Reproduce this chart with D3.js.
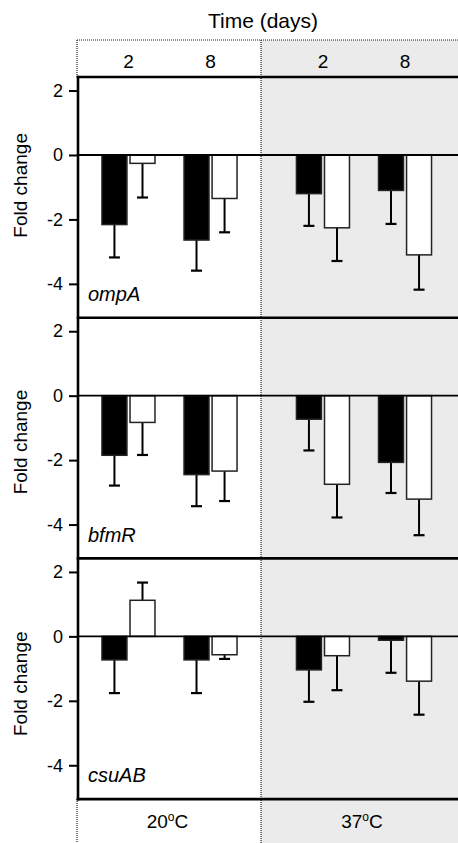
<!DOCTYPE html>
<html>
<head>
<meta charset="utf-8">
<script src="https://cdn.jsdelivr.net/npm/d3@7"></script>
<style>
  body { margin: 0; background: #fff; }
  svg { display: block; font-family: "Liberation Sans", Arial, sans-serif; }
</style>
</head>
<body>
<div id="chart"></div>
<script>
// Data
const temps = ['20', '37']
const days = ['2', '8']
const groups = ['filled', 'open']
const genes = ['ompA', 'bfmR', 'csuAB']
const yTicks = [2, 0, -2, -4]

// order: 20C day2 (filled, open), 20C day8, 37C day2, 37C day8
const ompAMean = [-2.16, -0.26, -2.64, -1.35, -1.2, -2.26, -1.1, -3.1]
const ompAErr = [1.02, 1.06, 0.95, 1.05, 1.0, 1.03, 1.04, 1.08]
const bfmRMean = [-1.85, -0.83, -2.45, -2.34, -0.73, -2.75, -2.07, -3.21]
const bfmRErr = [0.94, 1.01, 0.98, 0.93, 0.97, 1.03, 0.95, 1.12]
const csuABMean = [-0.73, 1.12, -0.73, -0.57, -1.04, -0.6, -0.12, -1.39]
const csuABErr = [1.03, 0.55, 1.03, 0.13, 0.99, 1.07, 1.01, 1.04]

const means = { ompA: ompAMean, bfmR: bfmRMean, csuAB: csuABMean }
const errs = { ompA: ompAErr, bfmR: bfmRErr, csuAB: csuABErr }

const rows = []
genes.forEach(g => {
  let i = 0
  temps.forEach(t => days.forEach(d => groups.forEach(s => {
    rows.push({ gene: g, temp: t, day: d, group: s, mean: means[g][i], err: errs[g][i] })
    i++
  })))
})

// Dimensions
const dims = {
  width: 458,
  height: 843,
  left: 78,
  boxTop: 40,
  plotTop: 77,
  panelHeight: 240.7
}
dims.plotBottom = dims.plotTop + dims.panelHeight * genes.length
// vertical nudge of the "Fold change" titles in each panel
const titleShift = [-12, 4, 5]

const svg = d3.select('#chart')
  .append('svg')
  .attr('width', dims.width)
  .attr('height', dims.height)

// scales
const xTemp = d3.scaleBand()
  .domain(temps)
  .range([dims.left, 455.5])
  .paddingInner(0.059)

const xDay = d3.scaleBand()
  .domain(days)
  .range([0, xTemp.bandwidth()])
  .paddingInner(0.354)
  .paddingOuter(0.292)

const xGroup = d3.scaleBand()
  .domain(groups)
  .range([0, xDay.bandwidth()])
  .paddingInner(0.11)

const divider = xTemp(temps[0]) + xTemp.bandwidth()
const groupX = d => xTemp(d.temp) + xDay(d.day) + xGroup(d.group)

const yPanel = d3.scaleBand()
  .domain(genes)
  .range([dims.plotTop, dims.plotBottom])

// Background for 37C
svg.append('rect')
  .attr('x', divider)
  .attr('y', dims.boxTop)
  .attr('width', dims.width - divider)
  .attr('height', dims.height - dims.boxTop)
  .attr('fill', '#ebebeb')

// dotted frame
const dotted = [
  [dims.left - 1, dims.boxTop, dims.width, dims.boxTop],
  [dims.left - 1, dims.boxTop, dims.left - 1, dims.plotTop],
  [dims.left - 1, dims.plotBottom, dims.left - 1, dims.height],
  [divider, dims.boxTop, divider, dims.height]
]
svg.selectAll('line.dot')
  .data(dotted)
  .join('line')
  .attr('class', 'dot')
  .attr('x1', d => d[0]).attr('y1', d => d[1])
  .attr('x2', d => d[2]).attr('y2', d => d[3])
  .attr('stroke', '#222')
  .attr('stroke-width', 1.2)
  .attr('stroke-dasharray', '1,1')

// title and header
svg.append('text')
  .attr('x', 263).attr('y', 28)
  .attr('text-anchor', 'middle')
  .attr('font-size', 21)
  .text('Time (days)')

temps.forEach(t => {
  days.forEach(d => {
    svg.append('text')
      .attr('x', xTemp(t) + xDay(d) + xDay.bandwidth() / 2)
      .attr('y', 68)
      .attr('text-anchor', 'middle')
      .attr('font-size', 19)
      .text(d)
  })
  const lab = svg.append('text')
    .attr('x', xTemp(t) + xTemp.bandwidth() / 2 - 2)
    .attr('y', 828)
    .attr('text-anchor', 'middle')
    .attr('font-size', 19)
  lab.append('tspan').text(t)
  lab.append('tspan').attr('font-size', 12).attr('dy', -7).text('o')
  lab.append('tspan').attr('dy', 7).text('C')
})

// panels
genes.forEach((g, gi) => {
  const top = yPanel(g)
  const yScale = d3.scaleLinear()
    .domain([-5.05, 2.42])
    .range([top + yPanel.bandwidth(), top])

  const ctr = svg.append('g')

  const axis = d3.axisLeft(yScale)
    .tickValues(yTicks)
    .tickSize(9)
    .tickPadding(6)
    .tickFormat(d => String(d))

  const ax = ctr.append('g')
    .attr('transform', `translate(${dims.left}, 0)`)
    .call(axis)
  ax.select('.domain').remove()
  ax.selectAll('.tick line').attr('stroke-width', 2)
  ax.selectAll('.tick text')
    .attr('font-size', 18)
    .attr('font-family', '"Liberation Sans", Arial, sans-serif')
    .attr('fill', '#000')

  const data = rows.filter(d => d.gene === g)

  // error bars
  const errEnd = d => d.mean + Math.sign(d.mean) * d.err
  const cx = d => groupX(d) + xGroup.bandwidth() / 2
  ctr.selectAll('line.err')
    .data(data)
    .join('line')
    .attr('class', 'err')
    .attr('x1', cx).attr('x2', cx)
    .attr('y1', d => yScale(d.mean))
    .attr('y2', d => yScale(errEnd(d)))
    .attr('stroke', '#000')
    .attr('stroke-width', 2)
  ctr.selectAll('line.cap')
    .data(data)
    .join('line')
    .attr('class', 'cap')
    .attr('x1', d => cx(d) - 5.5).attr('x2', d => cx(d) + 5.5)
    .attr('y1', d => yScale(errEnd(d)))
    .attr('y2', d => yScale(errEnd(d)))
    .attr('stroke', '#000')
    .attr('stroke-width', 2.2)

  // bars
  ctr.selectAll('rect.bar')
    .data(data)
    .join('rect')
    .attr('class', 'bar')
    .attr('x', d => groupX(d))
    .attr('width', xGroup.bandwidth())
    .attr('y', d => yScale(Math.max(0, d.mean)))
    .attr('height', d => Math.abs(yScale(d.mean) - yScale(0)))
    .attr('fill', d => d.group === 'filled' ? '#000' : '#fff')
    .attr('stroke', '#222')
    .attr('stroke-width', 1.5)

  // zero line
  ctr.append('line')
    .attr('x1', dims.left).attr('x2', dims.width)
    .attr('y1', yScale(0)).attr('y2', yScale(0))
    .attr('stroke', '#000')
    .attr('stroke-width', 1.8)

  // top border
  ctr.append('line')
    .attr('x1', dims.left - 1.25).attr('x2', dims.width)
    .attr('y1', top).attr('y2', top)
    .attr('stroke', '#000')
    .attr('stroke-width', 2.6)

  // gene label
  ctr.append('text')
    .attr('x', 88)
    .attr('y', yScale(0) + 146)
    .attr('font-size', 20)
    .attr('font-style', 'italic')
    .text(g)

  // y title
  ctr.append('text')
    .attr('transform', `translate(27, ${top + yPanel.bandwidth() / 2 + titleShift[gi]}) rotate(-90)`)
    .attr('text-anchor', 'middle')
    .attr('font-size', 19)
    .text('Fold change')
})

// left axis line and bottom border
svg.append('line')
  .attr('x1', dims.left).attr('x2', dims.left)
  .attr('y1', dims.plotTop - 1.3).attr('y2', dims.plotBottom + 1.3)
  .attr('stroke', '#000')
  .attr('stroke-width', 2.6)

svg.append('line')
  .attr('x1', dims.left - 1.25).attr('x2', dims.width)
  .attr('y1', dims.plotBottom).attr('y2', dims.plotBottom)
  .attr('stroke', '#000')
  .attr('stroke-width', 2.6)
</script>
</body>
</html>
